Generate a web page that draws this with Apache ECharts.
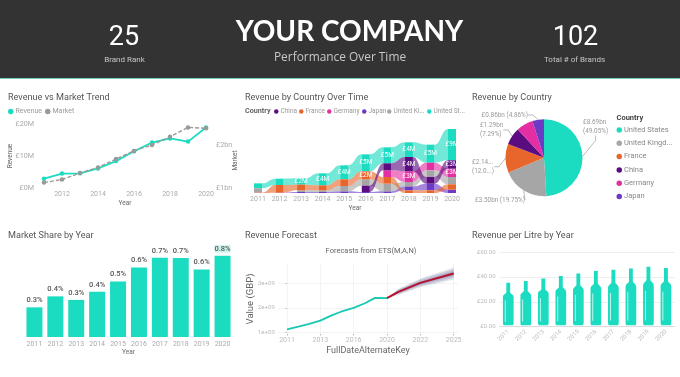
<!DOCTYPE html>
<html><head><meta charset="utf-8">
<style>html,body{margin:0;padding:0;background:#fff}#c{width:680px;height:377px;filter:blur(0.35px)}</style>
<script src="https://cdn.jsdelivr.net/npm/echarts@6/dist/echarts.min.js"></script></head>
<body><div id="c"></div>
<script>
const years=['2011','2012','2013','2014','2015','2016','2017','2018','2019','2020'];
const revenueM=[2.9,4.5,4.6,6.1,8.4,11.5,14.2,15.5,14.5,18.9];
const marketBn=[1.126,1.2,1.35,1.48,1.68,1.87,2.01,2.2,2.42,2.4];
const shareValues=[0.276,0.378,0.345,0.421,0.517,0.647,0.737,0.734,0.628,0.755];
const perLitre=[34,35.5,37.5,39.5,41.5,43.5,44.5,45.5,47,46];
const countryNames=['United States','United Kingdom','France','China','Germany','Japan'];
const pieValues=[8.69,3.50,2.14,1.29,1.25,0.86];
const pieLabels=['£8.69bn\n(49.05%)','£3.50bn (19.75%)','£2.14...\n(12.0...)','£1.29bn\n(7.29%)','','£0.86bn (4.86%)'];
const ribbonUS=[1.5,1.9,1.9,3.6,4.2,5.1,4.8,4.4,5.4,9.4];
const ribbonUK=[1.3,0,0.5,0.5,1.6,1.9,2.3,1.3,2.0,2.2];
const ribbonFR=[0.1,2.3,1.7,1.5,2.0,2.4,2.0,0.8,0.8,1.6];
const ribbonCN=[0,0,0,0,0,1.9,2.1,4.3,2.0,2.5];
const ribbonDE=[0,0,0,0,0,0,2.0,3.2,2.3,2.5];
const ribbonJP=[0,0.1,0.3,0.3,0.5,0.3,0.5,1.2,2.0,1.0];
// bottom-to-top stacking order of the ribbons, per year
const ribbonOrder=[
 ['FR','UK','US'],['JP','FR','US'],['JP','UK','FR','US'],['JP','UK','FR','US'],['JP','UK','FR','US'],
 ['JP','CN','UK','FR','US'],['JP','UK','FR','DE','CN','US'],['FR','JP','UK','DE','CN','US'],
 ['FR','JP','CN','UK','DE','US'],['JP','FR','UK','DE','CN','US']];
const ribbonLabelYears={US:[2,3,4,5,6,7,8,9],FR:[5],CN:[7,9],DE:[7,9],UK:[],JP:[]};
const forecastT=[0,0.34,0.64,1,1.34,1.64,2,2.34,2.64,3];
const forecastActual=[1.11e9,1.22e9,1.33e9,1.47e9,1.69e9,1.85e9,2.0e9,2.19e9,2.41e9,2.40e9];
const forecastT2=[3,3.34,4,5];
const forecastMean=[2.40e9,2.66e9,3.03e9,3.42e9];
const forecastSpread=[0,0.13e9,0.18e9,0.25e9];
const forecastTicks=['2011','2013','2016','2020','2022','2025'];

const TEAL='#1bdcc0',GREY='#a6a6a6',OR='#e8662b',CN='#5a0c80',DE='#e32fa3',JP='#6c3ac4';
const FONT='Roboto, sans-serif',HEAD='Lato, sans-serif',SUB='"Open Sans", sans-serif';
const ribbonSets={
 US:{name:'United States',vals:ribbonUS,color:TEAL},UK:{name:'United Kingdom',vals:ribbonUK,color:GREY},
 FR:{name:'France',vals:ribbonFR,color:OR},CN:{name:'China',vals:ribbonCN,color:CN},
 DE:{name:'Germany',vals:ribbonDE,color:DE},JP:{name:'Japan',vals:ribbonJP,color:JP}};
function span(key,i){let b=0;for(const k of ribbonOrder[i]){const v=ribbonSets[k].vals[i];if(k===key)return [b,b+v];b+=v;}return null;}

function T(text,x,y,size,color,weight,family,align){
 return {text,left:x,top:y,padding:0,textAlign:align||'left',
  textStyle:{fontSize:size,color,fontWeight:weight||'normal',fontFamily:family||FONT}};}
const titles=[
 T('YOUR COMPANY',349.5,18,28,'#fff','bold',HEAD,'center'),
 T('Performance Over Time',340,52,11.9,'#c8c8c8','normal',SUB,'center'),
 T('25',124,25,27,'#fff','normal',FONT,'center'),
 T('Brand Rank',124.5,56,8,'#c8c8c8','normal',FONT,'center'),
 T('102',575.5,25,27,'#fff','normal',FONT,'center'),
 T('Total # of Brands',574.5,56,8,'#c8c8c8','normal',FONT,'center'),
 T('Revenue vs Market Trend',8,93,9.1,'#555'),
 T('Revenue by Country Over Time',245,93,9.1,'#555'),
 T('Revenue by Country',472,93,9.1,'#555'),
 T('Market Share by Year',8,231,9.1,'#555'),
 T('Revenue Forecast',245,231,9.1,'#555'),
 T('Revenue per Litre by Year',472,231,9.1,'#555'),
 T('Forecasts from ETS(M,A,N)',371,247,7.5,'#666','normal',FONT,'center'),
 T('Country',245,108,7.2,'#666','bold'),
 T('Country',616.5,114,7.5,'#444','bold')
];
const grids=[
 {left:35,width:180,top:124,height:64},
 {left:247.2,width:215.6,top:128,height:65},
 {left:24,width:209,top:251,height:86},
 {left:278,width:180,top:264,height:70},
 {left:499.5,width:175.2,top:252,height:74.7}
];
const tick={color:'#aaa',fontSize:7,fontFamily:FONT};
const nm={color:'#666',fontSize:6.5,fontFamily:FONT};
const none={show:false};
const xAxes=[
 {gridIndex:0,type:'category',data:years,axisLine:none,axisTick:none,axisLabel:{...tick,margin:3,interval:(i)=>i%2===1},name:'Year',nameLocation:'middle',nameGap:12,nameMoveOverlap:false,nameTextStyle:nm},
 {gridIndex:1,type:'category',data:years,axisLine:none,axisTick:none,axisLabel:{...tick,margin:3,interval:0},name:'Year',nameLocation:'middle',nameGap:12,nameMoveOverlap:false,nameTextStyle:nm},
 {gridIndex:2,type:'category',data:years,axisLine:none,axisTick:none,axisLabel:{...tick,margin:4,interval:0},name:'Year',nameLocation:'middle',nameGap:12,nameMoveOverlap:false,nameTextStyle:nm},
 {gridIndex:3,type:'value',min:-0.27,max:5.13,axisLine:none,
  axisTick:{show:true,customValues:[0,1,2,3,4,5],length:1.5,lineStyle:{color:'#bbb'}},
  axisLabel:{...tick,color:'#bbb',margin:3,customValues:[0,1,2,3,4,5],formatter:(v)=>forecastTicks[v]},
  splitLine:{show:true,lineStyle:{color:'#f3f3f3',width:1}},
  name:'FullDateAlternateKey',nameLocation:'middle',nameGap:12,nameMoveOverlap:false,nameTextStyle:{color:'#666',fontSize:9,fontFamily:FONT}},
 {gridIndex:4,type:'category',data:years,axisLine:{lineStyle:{color:'#ddd'}},axisTick:none,axisLabel:{color:'#bbb',fontSize:6,fontFamily:FONT,rotate:45,margin:4,interval:0}}
];
const yAxes=[
 {gridIndex:0,type:'value',min:0,max:20,interval:10,axisLine:none,axisTick:none,splitLine:none,axisLabel:{...tick,fontSize:7.2,margin:1,formatter:(v)=>'£'+v+'M'},name:'Revenue',nameLocation:'middle',nameRotate:90,nameGap:21,nameMoveOverlap:false,nameTextStyle:nm},
 {gridIndex:0,type:'value',position:'right',min:1,max:2.5,axisLine:none,axisTick:none,splitLine:none,axisLabel:{...tick,fontSize:7.2,margin:1,customValues:[1,2],formatter:(v)=>'£'+v+'bn'}},
 {gridIndex:1,type:'value',min:0,max:19.5,axisLine:none,axisTick:none,splitLine:none,axisLabel:none,name:'Market',nameLocation:'middle',nameRotate:90,nameGap:8,nameMoveOverlap:false,nameTextStyle:nm},
 {gridIndex:2,type:'value',min:0,max:0.8,show:false},
 {gridIndex:3,type:'value',min:0.92e9,max:3.81e9,axisLine:none,
  axisTick:{show:true,customValues:[1e9,2e9,3e9],length:1.5,lineStyle:{color:'#bbb'}},
  axisLabel:{...tick,color:'#bbb',fontSize:6.2,margin:3,customValues:[1e9,2e9,3e9],formatter:(v)=>(v/1e9)+'e+09'},
  splitLine:{show:true,lineStyle:{color:'#f3f3f3',width:1}},
  name:'Value (GBP)',nameLocation:'middle',nameRotate:90,nameGap:22,nameMoveOverlap:false,nameTextStyle:{color:'#666',fontSize:9.5,fontFamily:FONT}},
 {gridIndex:4,type:'value',min:0,max:60,interval:20,axisLine:none,axisTick:none,splitLine:{lineStyle:{color:'#eee'}},axisLabel:{color:'#bbb',fontSize:6,fontFamily:FONT,margin:4,formatter:(v)=>'£'+v.toFixed(2)}}
];
function ribbonSeries(key){
 const s=ribbonSets[key];
 return {type:'custom',name:s.name,xAxisIndex:1,yAxisIndex:2,itemStyle:{color:s.color},silent:true,clip:false,
  data:years.map((y,i)=>[i,s.vals[i]]),
  encode:{x:0,y:1},
  renderItem(params,api){
   const i=api.value(0),children=[],cur=span(key,i),nxt=i<years.length-1?span(key,i+1):null;
   const bw=8;
   if(cur&&cur[1]>cur[0]){
    const a=api.coord([i,cur[1]]),b=api.coord([i,cur[0]]);
    if(nxt&&nxt[1]>nxt[0]){
     const c=api.coord([i+1,nxt[1]]),d=api.coord([i+1,nxt[0]]);
     const x0=a[0]+bw/2,x1=c[0]-bw/2,m=(x0+x1)/2;
     children.push({type:'path',shape:{pathData:`M${x0} ${a[1]}C${m} ${a[1]} ${m} ${c[1]} ${x1} ${c[1]}L${x1} ${d[1]}C${m} ${d[1]} ${m} ${b[1]} ${x0} ${b[1]}Z`},style:{fill:s.color,opacity:0.62}});
    }
    children.push({type:'rect',shape:{x:a[0]-bw/2,y:a[1],width:bw,height:b[1]-a[1]},style:{fill:s.color},z2:5});
    if(ribbonLabelYears[key].includes(i)){
     children.push({type:'text',z2:9,style:{text:'£'+Math.round(s.vals[i])+'M',x:a[0],y:(a[1]+b[1])/2,align:'center',verticalAlign:'middle',fill:'#fff',fontSize:6.5,fontFamily:FONT}});
    }
   }
   return {type:'group',children};
  }};
}
function bandSeries(spreadFactor,opacity){
 return {type:'custom',xAxisIndex:3,yAxisIndex:4,silent:true,z:2,
  data:forecastT2.map((t,i)=>[t,i]),encode:{x:0},
  renderItem(params,api){
   const i=api.value(1);
   if(i>=forecastT2.length-1)return {type:'group',children:[]};
   const t0=forecastT2[i],t1=forecastT2[i+1],m0=forecastMean[i],m1=forecastMean[i+1],s0=forecastSpread[i]*spreadFactor,s1=forecastSpread[i+1]*spreadFactor;
   return {type:'polygon',shape:{points:[api.coord([t0,m0+s0]),api.coord([t1,m1+s1]),api.coord([t1,m1-s1]),api.coord([t0,m0-s0])]},style:{fill:'#6a6a9a',opacity}};
  }};
}
const bottle='path://M32 0H68V21C68 25 100 25 100 32V90Q100 96 92 96H8Q0 96 0 90V32C0 25 32 25 32 21ZM18 40V88H25V40Z';
const shortNames={'United Kingdom':'United Ki...','United States':'United St...'};
const shortPie={'United Kingdom':'United Kingd...'};
const pieLabelPos=[
 {x:583,y:127,align:'left'},{x:525,y:200,align:'right'},{x:472,y:166.7,align:'left'},
 {x:480,y:130,align:'left'},{x:0,y:0,align:'left'},{x:528,y:115,align:'right'}];
const series=[
 {type:'line',name:'Revenue',xAxisIndex:0,yAxisIndex:0,data:revenueM,color:TEAL,symbol:'circle',symbolSize:4.5,lineStyle:{width:1.8}},
 {type:'line',name:'Market',xAxisIndex:0,yAxisIndex:1,data:marketBn,color:'#999',symbol:'circle',symbolSize:4.5,lineStyle:{width:1.4,type:[4,2]}},
 ...['US','JP','DE','UK','FR','CN'].map(ribbonSeries),
 {type:'bar',xAxisIndex:2,yAxisIndex:3,barWidth:16,itemStyle:{color:TEAL},
  data:shareValues.map((v,i)=>i===9?{value:v,label:{backgroundColor:'#cdf5ee'}}:v),
  label:{show:true,position:'top',distance:3,color:'#555',fontSize:7.5,fontWeight:500,fontFamily:FONT,formatter:(p)=>p.value.toFixed(1)+'%'}},
 bandSeries(1,0.18),bandSeries(0.75,0.2),bandSeries(0.5,0.22),bandSeries(0.25,0.25),
 {type:'line',xAxisIndex:3,yAxisIndex:4,data:forecastT.map((t,i)=>[t,forecastActual[i]]),color:'#17c9b3',symbol:'none',lineStyle:{width:1.8},z:3},
 {type:'line',xAxisIndex:3,yAxisIndex:4,data:forecastT2.map((t,i)=>[t,forecastMean[i]]),color:'#b5122e',symbol:'none',lineStyle:{width:2},z:4},
 {type:'pictorialBar',xAxisIndex:4,yAxisIndex:5,data:perLitre,symbol:bottle,symbolSize:[10.7,'100%'],symbolPosition:'start',symbolOffset:[0,-1.5],itemStyle:{color:TEAL}},
 {type:'pie',center:[544,157.7],radius:38.5,startAngle:90,
  data:countryNames.map((n,i)=>({name:n,value:pieValues[i],itemStyle:{color:[TEAL,GREY,OR,CN,DE,JP][i]},
    label:{show:pieLabels[i]!==''},labelLine:{show:pieLabels[i]!==''}})),
  label:{color:'#999',fontSize:6.4,lineHeight:8.5,fontFamily:FONT,formatter:(p)=>pieLabels[p.dataIndex]},
  labelLine:{show:true,length:5,length2:5,lineStyle:{color:'#bbb',width:1}},
  labelLayout:(p)=>({...pieLabelPos[p.dataIndex],verticalAlign:'middle'})}
];
const lt={color:'#999',fontSize:7,fontFamily:FONT};
const ribbonLegendNames=['China','France','Germany','Japan','United Kingdom','United States'];
const ribbonLegendLeft=[274,299,327,362,387,427];
const legends=[
 {left:8,top:108,orient:'horizontal',data:['Revenue','Market'],icon:'circle',itemWidth:5.5,itemHeight:5.5,itemGap:3,padding:0,textStyle:{...lt,padding:[0,0,0,-3]},selectedMode:false},
 ...ribbonLegendNames.map((n,i)=>({left:ribbonLegendLeft[i],top:108,data:[n],icon:'circle',itemWidth:4.5,itemHeight:4.5,padding:0,textStyle:{...lt,fontSize:6.5,padding:[0,0,0,-3]},selectedMode:false,formatter:(x)=>shortNames[x]||x})),
 {left:616.5,top:126,orient:'vertical',data:countryNames,icon:'circle',itemWidth:5.5,itemHeight:5.5,itemGap:5.3,padding:0,textStyle:{...lt,color:'#888',fontSize:7.5,padding:[0,0,0,-3]},selectedMode:false,formatter:(n)=>shortPie[n]||n}
];
const chart=echarts.init(document.getElementById('c'),null,{renderer:'canvas'});
chart.setOption({animation:false,backgroundColor:'#fff',
 graphic:[{type:'rect',shape:{x:0,y:0,width:680,height:78},style:{fill:'#333'},z:-10},
          {type:'rect',shape:{x:0,y:78,width:680,height:1},style:{fill:'#6fcfbf'},z:-10}],
 title:titles,grid:grids,xAxis:xAxes,yAxis:yAxes,legend:legends,series});
</script></body></html>
